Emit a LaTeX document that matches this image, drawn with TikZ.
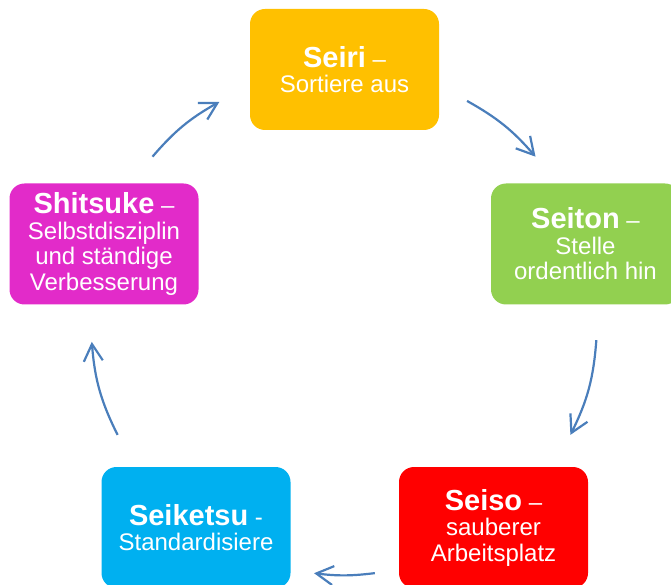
\documentclass[tikz,border=0pt]{standalone}
\usepackage{fontspec}
\setmainfont{Liberation Sans}
\usetikzlibrary{positioning,arrows.meta}
\definecolor{seiriC}{HTML}{FFC000}
\definecolor{seitonC}{HTML}{92D050}
\definecolor{seisoC}{HTML}{FF0000}
\definecolor{seiketsuC}{HTML}{00B0F0}
\definecolor{shitsukeC}{HTML}{E22BC9}
\definecolor{cycBlue}{HTML}{4A7EBB}
\tikzset{
sbox/.style = {fill=#1, rounded corners=15pt, minimum width=189pt, minimum height=121pt, inner sep=0pt, align=center, text=white, font=\fontsize{24}{25.5}\selectfont},
cyc/.style = {draw=cycBlue, line width=2.2pt, -{Straight Barb[length=17pt,width=19pt]}},
}
\newcommand{\sname}[1]{{\fontsize{29}{25.5}\selectfont\bfseries #1}}

\begin{document}
\begin{tikzpicture}[x=1pt, y=1pt]
	\useasboundingbox (0,0) rectangle (671,584);

	\node[sbox=seiriC] (Seiri) at (344.5,514.5) {\sname{Seiri} --\\Sortiere aus};
	\node[sbox=seitonC] (Seiton) at (585.5,340) {\sname{Seiton} --\\Stelle\\ordentlich hin};
	\node[sbox=seisoC] (Seiso) at (493.5,56.5) {\sname{Seiso} --\\sauberer\\Arbeitsplatz};
	\node[sbox=seiketsuC] (Seiketsu) at (196,56.5) {\sname{Seiketsu} -\\Standardisiere};
	\node[sbox=shitsukeC] (Shitsuke) at (104,340) {\sname{Shitsuke} --\\Selbstdisziplin\\und ständige\\Verbesserung};

	\coordinate (M) at (344,262);
	\coordinate (a1s) at ([shift={(M)}]60.9:253);
	\coordinate (a1e) at ([shift={(M)}]40.8:253);
	\coordinate (a2s) at ([shift={(M)}]-4.1:253);
	\coordinate (a2e) at ([shift={(M)}]-26.5:253);
	\coordinate (a3s) at ([shift={(M)}]-83:253);
	\coordinate (a3e) at ([shift={(M)}]-96.8:253);
	\coordinate (a4s) at ([shift={(M)}]206.5:253);
	\coordinate (a4e) at ([shift={(M)}]184.5:253);
	\coordinate (a5s) at ([shift={(M)}]139.2:253);
	\coordinate (a5e) at ([shift={(M)}]119.5:253);

	\draw[cyc] (a1s) to[bend left=10] (a1e);
	\draw[cyc] (a2s) to[bend left=11] (a2e);
	\draw[cyc] (a3s) to[bend left=7] (a3e);
	\draw[cyc] (a4s) to[bend left=11] (a4e);
	\draw[cyc] (a5s) to[bend left=10] (a5e);

\end{tikzpicture}
\end{document}
